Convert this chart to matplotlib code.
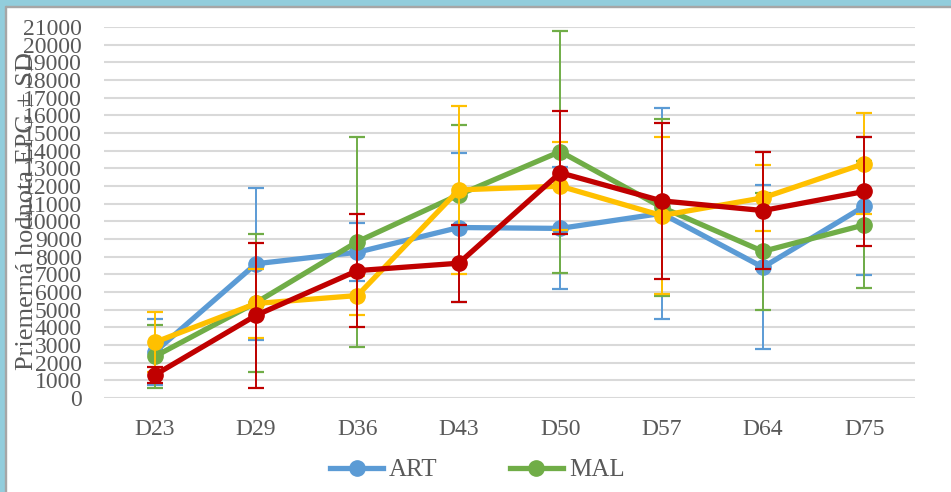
import matplotlib
matplotlib.use('Agg')
import matplotlib.pyplot as plt
from matplotlib.patches import Rectangle

# Dáta odčítané z grafu
days = ['D23', 'D29', 'D36', 'D43', 'D50', 'D57', 'D64', 'D75']

art = [2600, 7600, 8250, 9650, 9600, 10450, 7400, 10850]
art_sd = [1850, 4300, 1650, 4200, 3450, 5950, 4650, 3900]

mal = [2350, 5400, 8850, 11500, 13950, 10800, 8300, 9800]
mal_sd = [1800, 3900, 5950, 3950, 6850, 5000, 3300, 3600]

yellow = [3150, 5350, 5800, 11780, 11990, 10330, 11330, 13270]
yellow_sd = [1700, 1950, 1100, 4750, 2500, 4450, 1850, 2850]

red = [1300, 4680, 7210, 7630, 12750, 11160, 10610, 11690]
red_sd = [450, 4120, 3180, 2170, 3480, 4420, 3310, 3080]

yticks = list(range(0, 21001, 1000))

gray = '#595959'
font = 'Liberation Serif'

fig = plt.figure(figsize=(9.51, 4.92), dpi=100)
ax = fig.add_axes([104/951, 1 - 398/492, (915 - 104)/951, (398 - 27)/492])

series = [
    (art, art_sd, '#5B9BD5', 'ART'),
    (mal, mal_sd, '#70AD47', 'MAL'),
    (yellow, yellow_sd, '#FFC000', '_nolegend_'),
    (red, red_sd, '#C00000', '_nolegend_'),
]
x = list(range(len(days)))
for i, (vals, sd, col, name) in enumerate(series):
    ax.errorbar(x, vals, yerr=sd, color=col, lw=3.8, marker='o', ms=11,
                elinewidth=1.4, capsize=6, capthick=1.6, label=name,
                zorder=3 + i)

ax.set_xlim(-0.5, len(days) - 0.5)
ax.set_ylim(0, 21000)
ax.set_yticks(yticks)
ax.set_yticklabels([str(v) for v in yticks], fontsize=17, family=font, color=gray)
ax.set_xticks(x)
ax.set_xticklabels(days, fontsize=17, family=font, color=gray)
ax.tick_params(axis='y', length=0, pad=16)
ax.tick_params(axis='x', length=0, pad=15)
ax.grid(axis='y', color='#D9D9D9', lw=1.5, zorder=0)
ax.set_axisbelow(True)
for s in ax.spines.values():
    s.set_visible(False)

fig.text(27/951, 0.571, 'Priemerná hodnota EPG ± SD', rotation=90,
         ha='center', va='center', fontsize=19, family=font, color=gray)

handles, labels = ax.get_legend_handles_labels()
handles = [h[0] for h in handles]
fig.legend(handles, labels, loc='center', bbox_to_anchor=(0.502, 1 - 470/492),
           ncol=2, frameon=False, prop={'family': font, 'size': 18},
           labelcolor=gray, handlelength=2.1, columnspacing=2.9, handletextpad=0.25)

# modrý rámček okolo
fig.add_artist(Rectangle((0, 1 - 6/492), 1, 6/492, transform=fig.transFigure,
                         color='#92CDDC', zorder=10))
fig.add_artist(Rectangle((0, 1 - 7/492), 1, 1.2/492, transform=fig.transFigure,
                         color='#A6A6A6', zorder=10))
fig.add_artist(Rectangle((0, 0), 5/951, 1, transform=fig.transFigure,
                         color='#92CDDC', zorder=10))
fig.add_artist(Rectangle((5/951, 0), 1.2/951, 1 - 6/492, transform=fig.transFigure,
                         color='#A6A6A6', zorder=10))

fig.savefig('out.png', dpi=100)
